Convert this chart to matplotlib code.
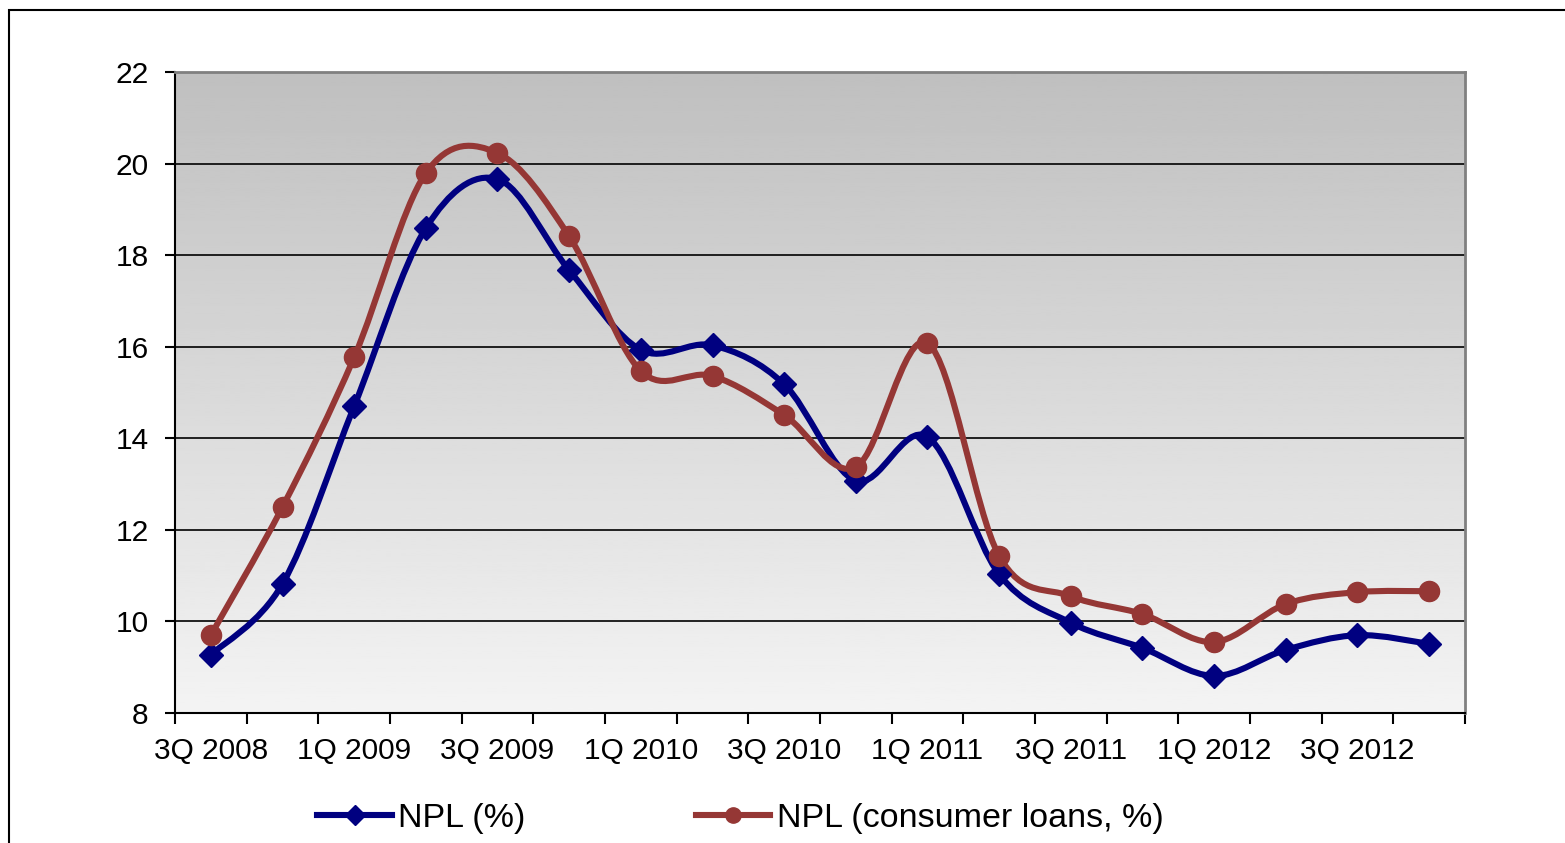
import matplotlib
matplotlib.use("Agg")
import matplotlib.pyplot as plt
import numpy as np
from matplotlib.path import Path
from matplotlib.patches import PathPatch, Rectangle
from matplotlib.lines import Line2D

plt.rcParams['font.family'] = ['Liberation Sans', 'DejaVu Sans']

quarters = ["3Q 2008", "4Q 2008", "1Q 2009", "2Q 2009", "3Q 2009", "4Q 2009",
            "1Q 2010", "2Q 2010", "3Q 2010", "4Q 2010", "1Q 2011", "2Q 2011",
            "3Q 2011", "4Q 2011", "1Q 2012", "2Q 2012", "3Q 2012", "4Q 2012"]
npl = [9.27, 10.82, 14.70, 18.59, 19.66, 17.67, 15.93, 16.03, 15.18,
       13.07, 14.03, 11.03, 9.97, 9.42, 8.81, 9.38, 9.70, 9.51]
npl_consumer = [9.70, 12.50, 15.77, 19.79, 20.23, 18.41, 15.47, 15.36, 14.51,
                13.37, 16.08, 11.43, 10.55, 10.16, 9.55, 10.38, 10.64, 10.66]

blue = '#000080'
red = '#953735'


def smooth_path(xs, ys):
    # Excel-style smoothed line: cubic Bezier segments through every point
    pts = np.column_stack([xs, ys]).astype(float)
    n = len(pts)
    verts = [pts[0]]
    codes = [Path.MOVETO]
    for i in range(n - 1):
        p0 = pts[max(i - 1, 0)]
        p1 = pts[i]
        p2 = pts[i + 1]
        p3 = pts[min(i + 2, n - 1)]
        c1 = p1 + (p2 - p0) / 6.0
        c2 = p2 - (p3 - p1) / 6.0
        verts += [c1, c2, p2]
        codes += [Path.CURVE4] * 3
    return Path(verts, codes)


fig = plt.figure(figsize=(15.65, 8.43), dpi=100)
ax = fig.add_axes([175 / 1565, 1 - 713 / 843, 1290 / 1565, 641 / 843])

# gradient background of plot area
grad = np.linspace(0.955, 0.75, 256).reshape(-1, 1)
ax.imshow(grad, extent=[0, 1, 0, 1], transform=ax.transAxes, aspect='auto',
          cmap='gray', vmin=0, vmax=1, origin='lower', zorder=0)

x = np.arange(len(quarters))
for vals, col, mk, ms in [(npl, blue, 'D', 12.5), (npl_consumer, red, 'o', 14.5)]:
    ax.add_patch(PathPatch(smooth_path(x, vals), facecolor='none', edgecolor=col,
                           lw=4.4, capstyle='round', joinstyle='round', zorder=3))
    ax.plot(x, vals, linestyle='none', marker=mk, ms=ms, color=col, zorder=4)

ax.set_xlim(-0.5, len(quarters) - 0.5)
ax.set_ylim(8, 22)
ax.set_yticks(np.arange(8, 23, 2))
ax.yaxis.grid(True, color='black', lw=1.2, zorder=1)
ax.set_axisbelow(True)

ax.set_xticks(x[::2])
ax.set_xticklabels(quarters[::2])
ax.set_xticks(np.arange(-0.5, len(quarters), 1), minor=True)
ax.tick_params(axis='x', which='major', length=0, pad=17, labelsize=21.5)
ax.tick_params(axis='x', which='minor', length=8, width=1.5, direction='out')
ax.tick_params(axis='y', length=7, width=1.5, pad=12, labelsize=21.5)

for s in ['left', 'bottom']:
    ax.spines[s].set_color('black')
    ax.spines[s].set_linewidth(1.5)
for s in ['top', 'right']:
    ax.spines[s].set_color('#808080')
    ax.spines[s].set_linewidth(2)

handles = [Line2D([], [], color=blue, lw=4.4, marker='D', ms=10),
           Line2D([], [], color=red, lw=4.4, marker='o', ms=11)]
fig.legend(handles, ["NPL (%)", "NPL (consumer loans, %)"], loc='center',
           bbox_to_anchor=(0.473, 0.029), ncol=2, frameon=False, fontsize=24.5,
           handlelength=2.2, handletextpad=0.18, columnspacing=5.0)

# chart border
fig.add_artist(Rectangle((9 / 1565, -0.2), 1.5, 1.2 - 10 / 843, fill=False,
                         edgecolor='black', lw=1.5, transform=fig.transFigure))

fig.savefig('out.png', dpi=100, facecolor='white')
